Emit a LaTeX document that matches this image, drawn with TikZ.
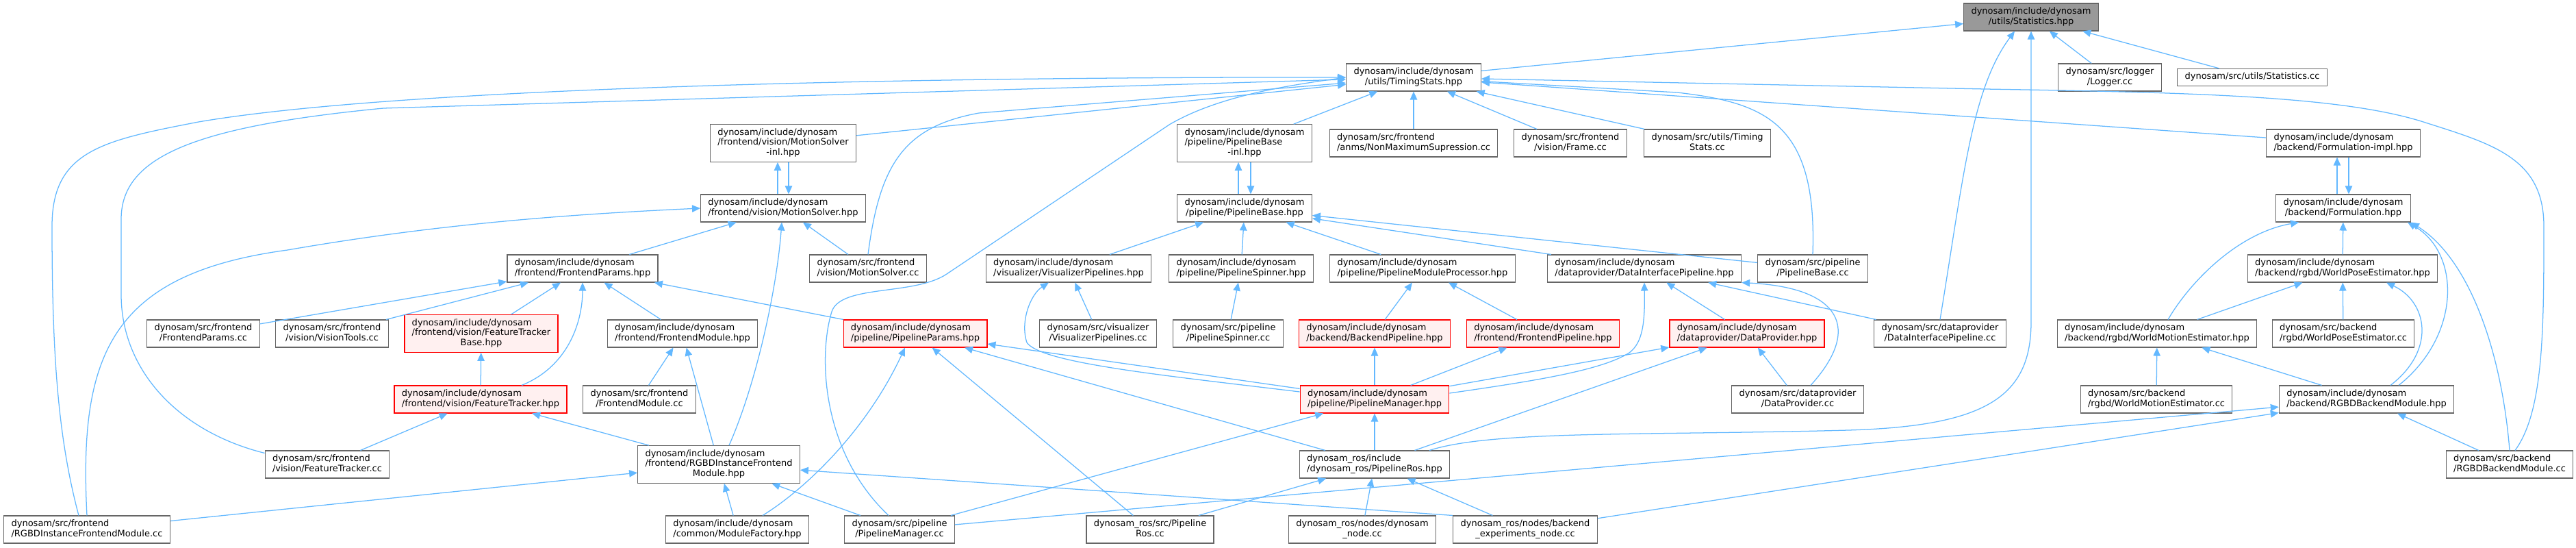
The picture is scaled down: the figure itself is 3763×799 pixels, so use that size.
\documentclass[tikz,border=0pt]{standalone}
\usepackage{fontspec}
\setmainfont{DejaVu Sans}
\usetikzlibrary{arrows.meta,calc}
\definecolor{depblue}{HTML}{63B8FF}
\definecolor{boxgray}{HTML}{666666}
\definecolor{curfill}{HTML}{999999}
\definecolor{hlfill}{HTML}{FFF0F0}
% label: leading lines left, last line centred
\newcommand{\flab}[2]{\begin{tabular}{@{}l@{}}#1\\\multicolumn{1}{@{}c@{}}{#2}\end{tabular}}

\begin{document}
\begin{tikzpicture}[x=0.25mm, y=-0.25mm, >={Triangle[length=3mm,width=2.6mm]},
    file/.style={draw=boxgray, fill=white, line width=0.9pt, inner xsep=2.7mm, inner ysep=1.3mm,
      font=\fontsize{9.25}{10.45}\selectfont},
    hl/.style={file, draw=red, fill=hlfill},
    cur/.style={file, fill=curfill},
    dep/.style={color=depblue, line width=0.9pt}]
  \useasboundingbox (0,0) rectangle (3763,799);

  % top rows
  \node[cur] (stats) at (2967,25) {\flab{dynosam/include/dynosam}{/utils/Statistics.hpp}};
  \node[file] (timing) at (2065,113) {\flab{dynosam/include/dynosam}{/utils/TimingStats.hpp}};
  \node[file] (logger) at (3082,113) {\flab{dynosam/src/logger}{/Logger.cc}};
  \node[file] (statscc) at (3290,113) {\strut dynosam/src/utils/Statistics.cc};
  \node[file] (msinl) at (1144,209) {\flab{dynosam/include/dynosam\\/frontend/vision/MotionSolver}{-inl.hpp}};
  \node[file] (pbinl) at (1818,209) {\flab{dynosam/include/dynosam\\/pipeline/PipelineBase}{-inl.hpp}};
  \node[file] (nms) at (2065,209) {\flab{dynosam/src/frontend}{/anms/NonMaximumSupression.cc}};
  \node[file] (frame) at (2294,209) {\flab{dynosam/src/frontend}{/vision/Frame.cc}};
  \node[file] (timingcc) at (2494,209) {\flab{dynosam/src/utils/Timing}{Stats.cc}};
  \node[file] (formimpl) at (3423,209) {\flab{dynosam/include/dynosam}{/backend/Formulation-impl.hpp}};
  \node[file] (ms) at (1144,304) {\flab{dynosam/include/dynosam}{/frontend/vision/MotionSolver.hpp}};
  \node[file] (pb) at (1818,304) {\flab{dynosam/include/dynosam}{/pipeline/PipelineBase.hpp}};
  \node[file] (form) at (3423,304) {\flab{dynosam/include/dynosam}{/backend/Formulation.hpp}};

  % middle rows
  \node[file] (fparams) at (851,392) {\flab{dynosam/include/dynosam}{/frontend/FrontendParams.hpp}};
  \node[file] (mscc) at (1268,392) {\flab{dynosam/src/frontend}{/vision/MotionSolver.cc}};
  \node[file] (vizhpp) at (1561,392) {\flab{dynosam/include/dynosam}{/visualizer/VisualizerPipelines.hpp}};
  \node[file] (spinhpp) at (1813,392) {\flab{dynosam/include/dynosam}{/pipeline/PipelineSpinner.hpp}};
  \node[file] (modproc) at (2078,392) {\flab{dynosam/include/dynosam}{/pipeline/PipelineModuleProcessor.hpp}};
  \node[file] (dip) at (2402,392) {\flab{dynosam/include/dynosam}{/dataprovider/DataInterfacePipeline.hpp}};
  \node[file] (pbcc) at (2648,392) {\flab{dynosam/src/pipeline}{/PipelineBase.cc}};
  \node[file] (wpe) at (3422,392) {\flab{dynosam/include/dynosam}{/backend/rgbd/WorldPoseEstimator.hpp}};
  \node[file] (fpcc) at (297,487) {\flab{dynosam/src/frontend}{/FrontendParams.cc}};
  \node[file] (vtcc) at (485,487) {\flab{dynosam/src/frontend}{/vision/VisionTools.cc}};
  \node[hl] (ftbase) at (703,487) {\flab{dynosam/include/dynosam\\/frontend/vision/FeatureTracker}{Base.hpp}};
  \node[file] (fmod) at (997,487) {\flab{dynosam/include/dynosam}{/frontend/FrontendModule.hpp}};
  \node[hl] (pparams) at (1337,487) {\flab{dynosam/include/dynosam}{/pipeline/PipelineParams.hpp}};
  \node[file] (vizcc) at (1604,487) {\flab{dynosam/src/visualizer}{/VisualizerPipelines.cc}};
  \node[file] (spincc) at (1794,487) {\flab{dynosam/src/pipeline}{/PipelineSpinner.cc}};
  \node[hl] (bpipe) at (2008,487) {\flab{dynosam/include/dynosam}{/backend/BackendPipeline.hpp}};
  \node[hl] (fpipe) at (2254,487) {\flab{dynosam/include/dynosam}{/frontend/FrontendPipeline.hpp}};
  \node[hl] (dprov) at (2552,487) {\flab{dynosam/include/dynosam}{/dataprovider/DataProvider.hpp}};
  \node[file] (dipcc) at (2834,487) {\flab{dynosam/src/dataprovider}{/DataInterfacePipeline.cc}};
  \node[file] (wme) at (3151,487) {\flab{dynosam/include/dynosam}{/backend/rgbd/WorldMotionEstimator.hpp}};
  \node[file] (wpecc) at (3423,487) {\flab{dynosam/src/backend}{/rgbd/WorldPoseEstimator.cc}};

  % lower rows
  \node[hl] (ft) at (702,583) {\flab{dynosam/include/dynosam}{/frontend/vision/FeatureTracker.hpp}};
  \node[file] (fmodcc) at (934,583) {\flab{dynosam/src/frontend}{/FrontendModule.cc}};
  \node[hl] (pman) at (2008,583) {\flab{dynosam/include/dynosam}{/pipeline/PipelineManager.hpp}};
  \node[file] (dprovcc) at (2626,583) {\flab{dynosam/src/dataprovider}{/DataProvider.cc}};
  \node[file] (wmecc) at (3150,583) {\flab{dynosam/src/backend}{/rgbd/WorldMotionEstimator.cc}};
  \node[file] (rgbdbe) at (3457,583) {\flab{dynosam/include/dynosam}{/backend/RGBDBackendModule.hpp}};
  \node[file] (ftcc) at (478,678) {\flab{dynosam/src/frontend}{/vision/FeatureTracker.cc}};
  \node[file] (rgbdfe) at (1050,678) {\flab{dynosam/include/dynosam\\/frontend/RGBDInstanceFrontend}{Module.hpp}};
  \node[file] (pros) at (2008,678) {\flab{dynosam\_ros/include}{/dynosam\_ros/PipelineRos.hpp}};
  \node[file] (rgbdbecc) at (3666,678) {\flab{dynosam/src/backend}{/RGBDBackendModule.cc}};
  \node[file] (rgbdfecc) at (127,773) {\flab{dynosam/src/frontend}{/RGBDInstanceFrontendModule.cc}};
  \node[file] (modfac) at (1077,773) {\flab{dynosam/include/dynosam}{/common/ModuleFactory.hpp}};
  \node[file] (pmancc) at (1314,773) {\flab{dynosam/src/pipeline}{/PipelineManager.cc}};
  \node[file] (proscc) at (1680,773) {\flab{dynosam\_ros/src/Pipeline}{Ros.cc}};
  \node[file] (dnode) at (1990,773) {\flab{dynosam\_ros/nodes/dynosam}{\_node.cc}};
  \node[file] (bexp) at (2228,773) {\flab{dynosam\_ros/nodes/backend}{\_experiments\_node.cc}};

  % Statistics.hpp
  \path [->, dep] (timing) edge (stats)
    (logger) edge (stats)
    (statscc) edge (stats);
  \draw [->, dep] (dipcc.north) .. controls (2868,260) and (2880,130) .. ($(stats.south)+(-24,0)$);
  \draw [->, dep] ($(pros.north)+(80,0)$) .. controls (2180,628) and (2400,636) .. (2700,628)
    .. controls (2900,622) and (2967,580) .. (2967,470) -- (stats.south);

  % TimingStats.hpp
  \path [->, dep] (msinl) edge (timing)
    (pbinl) edge (timing)
    (nms) edge (timing)
    (frame) edge (timing)
    (timingcc) edge (timing)
    (formimpl) edge (timing);
  \draw [->, dep] (mscc.north) .. controls (1285,240) and (1320,185) .. (1430,165) -- (timing);
  \draw [->, dep] ($(pmancc.north)+(-16,0)$) .. controls (1200,660) and (1195,520) .. (1215,455)
    .. controls (1228,415) and (1335,432) .. (1383,400) -- (1708,182)
    .. controls (1780,140) and (1880,125) .. (timing.west);
  \draw [->, dep] (pbcc.north) .. controls (2655,180) and (2580,150) .. (2450,135) -- (timing);
  \draw [->, dep] ($(rgbdbecc.north)+(8,0)$) .. controls (3716,600) and (3716,480) .. (3716,330)
    .. controls (3716,230) and (3640,210) .. (3540,178)
    .. controls (3420,140) and (3200,135) .. (2900,130) -- (timing);
  \draw [->, dep] ($(rgbdfecc.north)+(-12,0)$) .. controls (85,640) and (76,520) .. (76,330)
    .. controls (76,220) and (150,205) .. (290,178)
    .. controls (600,125) and (1400,112) .. (timing.west);
  \draw [->, dep] ($(ftcc.north west)+(0,4)$) .. controls (260,630) and (177,540) .. (177,430) -- (177,320)
    .. controls (177,230) and (280,185) .. (560,158) -- (timing);

  % MotionSolver
  \path [->, dep] ($(ms.north)+(-8,0)$) edge ($(msinl.south)+(-8,0)$)
    ($(msinl.south)+(8,0)$) edge ($(ms.north)+(8,0)$)
    (fparams) edge (ms)
    (mscc) edge (ms);
  \draw [->, dep] (rgbdfecc.north) .. controls (115,520) and (160,400) .. (420,365)
    .. controls (650,325) and (850,312) .. (ms.west);
  \draw [->, dep] ($(rgbdfe.north)+(15,0)$) .. controls (1105,560) and (1135,420) .. ($(ms.south)+(-2,0)$);

  % frontend
  \path [->, dep] (fpcc) edge (fparams)
    (vtcc) edge (fparams)
    (ftbase) edge (fparams)
    (fmod) edge (fparams)
    (pparams) edge (fparams)
    (ft) edge (ftbase)
    (ftcc) edge (ft)
    (rgbdfe) edge (ft)
    (fmodcc) edge (fmod)
    (rgbdfe) edge (fmod)
    (rgbdfecc) edge (rgbdfe)
    (modfac) edge (rgbdfe)
    (pmancc) edge (rgbdfe)
    (bexp.north west) edge (rgbdfe);
  \draw [->, dep] ($(ft.north)+(60,0)$) .. controls (830,535) and (851,470) .. (fparams.south);

  % pipeline
  \path [->, dep] (proscc) edge (pparams)
    (pman) edge (pparams)
    (pros) edge (pparams)
    (vizcc) edge (vizhpp)
    (spincc) edge (spinhpp)
    (vizhpp) edge (pb)
    (spinhpp) edge (pb)
    (modproc) edge (pb)
    (dip) edge (pb)
    (pbcc) edge (pb)
    ($(pb.north)+(-9,0)$) edge ($(pbinl.south)+(-9,0)$)
    ($(pbinl.south)+(9,0)$) edge ($(pb.north)+(9,0)$)
    (bpipe) edge (modproc)
    (fpipe) edge (modproc)
    (dprov) edge (dip)
    (dipcc) edge (dip)
    (pman) edge (bpipe)
    (pman) edge (fpipe)
    (pman) edge (dprov)
    (pros) edge (dprov)
    (dprovcc) edge (dprov)
    (pros) edge (pman)
    (pmancc) edge (pman)
    (dnode) edge (pros)
    (bexp) edge (pros)
    (proscc) edge (pros);
  \draw [->, dep] ($(modfac.north)+(37,0)$) .. controls (1175,715) and (1265,630) .. ($(pparams.south)+(-15,0)$);
  \draw [->, dep] ($(pman.west)+(0,-11)$) .. controls (1700,548) and (1520,530) .. (1500,500)
    .. controls (1490,470) and (1505,430) .. ($(vizhpp.south)+(-29,0)$);
  \draw [->, dep] ($(pman.east)+(0,-9)$) .. controls (2250,555) and (2340,540) .. (2380,515)
    .. controls (2400,500) and (2403,470) .. (dip.south);
  \draw [->, dep] ($(dprovcc.north)+(19,0)$) .. controls (2720,480) and (2690,420) .. (dip.south east);

  % backend
  \path [->, dep] (pmancc) edge (rgbdbe)
    (bexp) edge (rgbdbe)
    (rgbdbecc) edge (rgbdbe)
    (rgbdbe) edge (wme)
    (wmecc) edge (wme)
    (wme) edge (wpe)
    (wpecc) edge (wpe)
    (wpe) edge (form)
    ($(form.north)+(-9,0)$) edge ($(formimpl.south)+(-9,0)$)
    ($(formimpl.south)+(8,0)$) edge ($(form.north)+(8,0)$);
  \draw [->, dep] ($(rgbdbe.north)+(35,0)$) .. controls (3560,510) and (3545,440) .. ($(wpe.south)+(64,0)$);
  \draw [->, dep] ($(rgbdbe.north)+(47,0)$) .. controls (3595,490) and (3595,370) .. ($(form.south east)+(-5,0)$);
  \draw [->, dep] (rgbdbecc.north) .. controls (3655,520) and (3610,380) .. (form.south east);
  \draw [->, dep] ($(wme.north)+(16,0)$) .. controls (3200,410) and (3270,340) .. ($(form.south west)+(34,0)$);
\end{tikzpicture}
\end{document}
